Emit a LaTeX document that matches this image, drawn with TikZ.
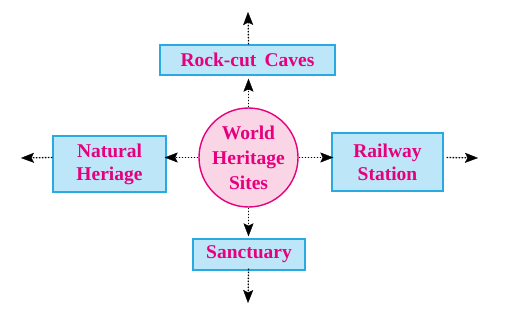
\documentclass[tikz,border=0pt]{standalone}
\usepackage{fontspec}
\setmainfont{Liberation Serif}
\usetikzlibrary{arrows.meta}
\definecolor{boxfill}{HTML}{BDE6F8}
\definecolor{boxline}{HTML}{29ABE2}
\definecolor{mag}{HTML}{E6007E}
\definecolor{circfill}{HTML}{F9D5E6}
\tikzset{
  box/.style={draw=boxline, fill=boxfill, line width=1.4pt, inner sep=0pt, align=center,
    font=\fontsize{19.5}{23}\selectfont\bfseries, text=mag},
  hub/.style={circle, draw=mag, fill=circfill, line width=1.4pt, inner sep=0pt,
    minimum size=99pt, align=center, font=\fontsize{19.5}{25}\selectfont\bfseries, text=mag},
  arr/.style={line width=1.3pt, dash pattern=on 1.3pt off 1.7pt,
    -{Stealth[length=13pt,width=10pt,inset=2.5pt,line width=0.3pt,sep=0pt]}, fill=black!85}
}
\begin{document}
\begin{tikzpicture}[x=1pt,y=-1pt]
\useasboundingbox (0,0) rectangle (512,313);
\node[hub] (c) at (248.5,157.5) {World\\Heritage\\Sites};
\node[box, minimum width=175pt, minimum height=30pt] (rc) at (247.5,60) {Rock-cut\, Caves};
\node[box, minimum width=113pt, minimum height=56pt] (nh) at (109.5,164) {Natural\\Heriage};
\node[box, minimum width=111pt, minimum height=58pt] (rs) at (387.5,162) {Railway\\Station};
\node[box, minimum width=112pt, minimum height=31pt] (sa) at (249,254.5) {Sanctuary};
\coordinate (tend) at (248,12);
\coordinate (lend) at (21,158);
\coordinate (rend) at (478,158);
\coordinate (bend) at (248,303);
\draw[arr] (c.north) -- ([yshift=-3pt]c.north |- rc.south);
\draw[arr] (c.north |- rc.north) -- (tend);
\draw[arr] (c.west) -- ([xshift=-2pt]nh.east |- c.west);
\draw[arr] (nh.west |- c.west) -- (lend);
\draw[arr] (c.east) -- ([xshift=2pt]rs.west |- c.east);
\draw[arr] ([xshift=3pt]rs.east |- c.east) -- (rend);
\draw[arr] (c.south) -- ([yshift=2pt]c.south |- sa.north);
\draw[arr] ([yshift=2pt]c.south |- sa.south) -- (bend);
\end{tikzpicture}
\end{document}
